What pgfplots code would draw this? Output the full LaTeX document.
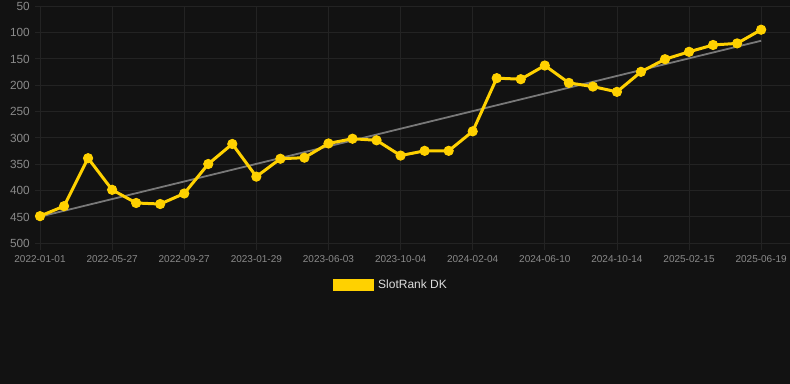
\documentclass[border=0pt]{standalone}
\usepackage{pgfplots}
\pgfplotsset{compat=1.18}
\usepackage{fontspec}
\setmainfont{Liberation Sans}
\definecolor{bg}{HTML}{121212}
\definecolor{gridc}{HTML}{232323}
\definecolor{tickc}{HTML}{8A8A8A}
\definecolor{ylw}{HTML}{FFD100}
\definecolor{trend}{HTML}{787878}
\definecolor{legc}{HTML}{DDDDDD}
\pgfplotstableread{
idx rank
0 449
1 430
2 339
3 399
4 424
5 426
6 406
7 350
8 312
9 374
10 340
11 338
12 311
13 302
14 305
15 334
16 325
17 325
18 288
19 187
20 189
21 163
22 196
23 203
24 213
25 175
26 151
27 137
28 124
29 121
30 95
}\ranktable
\begin{document}
\begin{tikzpicture}
\fill[bg] (0,0) rectangle (790bp,384bp);
\begin{axis}[
  at={(35bp,141bp)}, anchor=south west,
  scale only axis, width=755bp, height=237bp,
  xmin=-0.208, xmax=31.2,
  ymin=50, ymax=500, y dir=reverse,
  axis line style={draw=none},
  xtick={0,3,...,30},
  xticklabels={2022-01-01,2022-05-27,2022-09-27,2023-01-29,2023-06-03,2023-10-04,2024-02-04,2024-06-10,2024-10-14,2025-02-15,2025-06-19},
  ytick={50,100,...,500},
  grid=major, grid style={draw=gridc, line width=0.7bp},
  tick align=outside, tick pos=left,
  major tick length=7bp,
  xtick style={draw=gridc, line width=0.7bp},
  ytick style={draw=none},
  /pgf/number format/assume math mode=true,
  yticklabel style={text=tickc, font=\fontsize{11.8bp}{13bp}\selectfont, anchor=east, inner sep=0pt, xshift=2bp, yshift=-0.5bp},
  xticklabel style={text=tickc, font=\fontsize{10bp}{12bp}\selectfont, anchor=north, inner sep=0pt, yshift=-5.5bp},
  legend style={at={(0.3947,-0.176)}, anchor=west, draw=none, fill=none, inner sep=0pt,
    font=\fontsize{12bp}{14bp}\selectfont, text=legc,
    /tikz/every odd column/.append style={column sep=2bp}},
  legend cell align=left,
]
\addplot[trend, line width=1.8bp, forget plot] coordinates {(0,450) (30,116)};
\addplot[ylw, line width=3bp, mark=*, mark size=4.6bp, mark options={fill=ylw, draw=ylw, line width=1bp},
  legend image code/.code={\fill[ylw] (0bp,-4.5bp) rectangle (38bp,4.5bp);}]
  table[x=idx, y=rank] {\ranktable};
\addlegendentry{SlotRank DK}
\end{axis}
\pgfresetboundingbox
\useasboundingbox (0,0) rectangle (790bp,384bp);
\end{tikzpicture}
\end{document}
